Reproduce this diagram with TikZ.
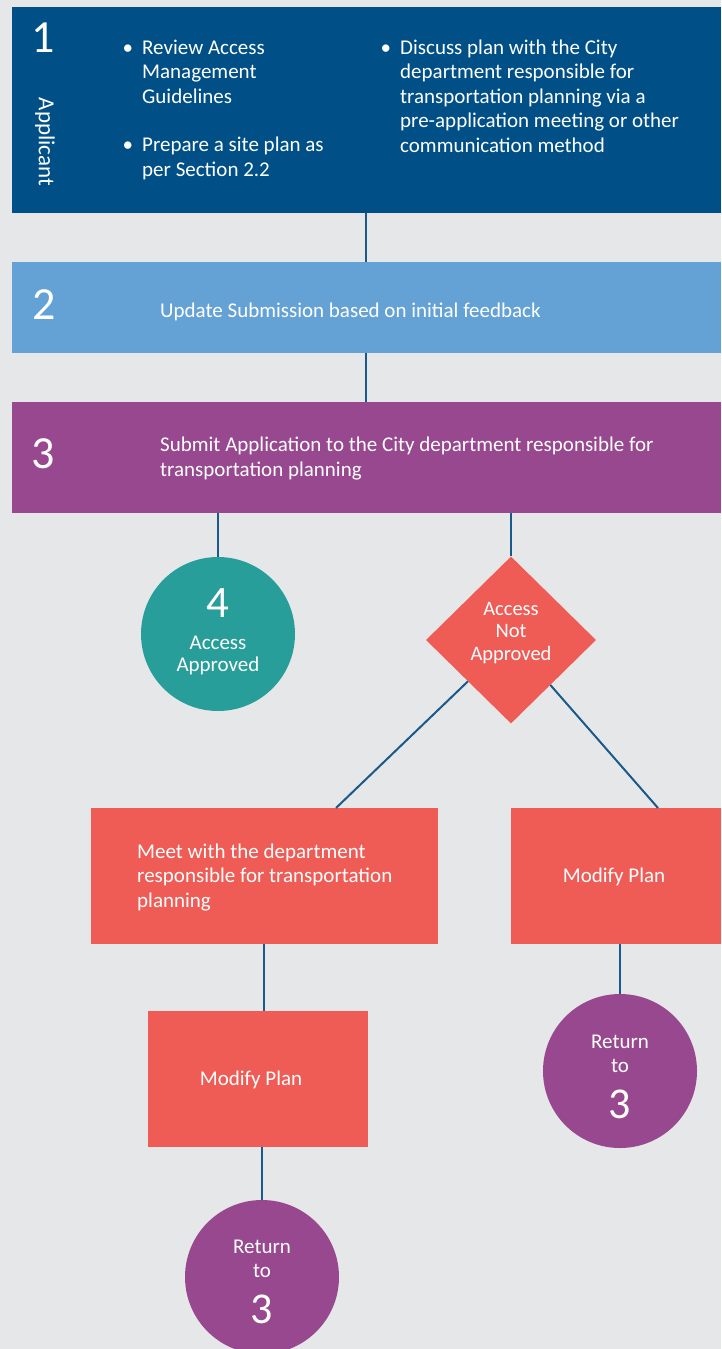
\documentclass[tikz,border=0pt]{standalone}
\usepackage{fontspec}
\setmainfont{Carlito}
\usetikzlibrary{shapes.geometric}
\definecolor{bg}{HTML}{E6E7E8}
\definecolor{dblue}{HTML}{005087}
\definecolor{lblue}{HTML}{64A2D6}
\definecolor{purp}{HTML}{98488F}
\definecolor{teal}{HTML}{279E9A}
\definecolor{coral}{HTML}{EF5B55}
\definecolor{conn}{HTML}{1A5A8A}
\begin{document}
\begin{tikzpicture}[x=1pt,y=-1pt,
  rbox/.style={rectangle, inner sep=0pt, outer sep=0pt, anchor=north west},
  ln/.style={draw=conn, line width=2pt},
  txt/.style={text=white, inner sep=0pt, align=left, font=\fontsize{21}{24.5}\selectfont},
  ctxt/.style={text=white, inner sep=0pt, align=center, font=\fontsize{21}{22}\selectfont},
  num/.style={text=white, inner sep=0pt, font=\fontsize{46}{46}\selectfont, anchor=base}
]
\fill[bg] (0,0) rectangle (721,1349);
\useasboundingbox (0,0) rectangle (721,1349);

% step boxes
\node[rbox, fill=dblue, minimum width=709pt, minimum height=206pt] (s1) at (12,7) {};
\node[rbox, fill=lblue, minimum width=709pt, minimum height=91pt] (s2) at (12,262) {};
\node[rbox, fill=purp, minimum width=709pt, minimum height=111pt] (s3) at (12,402) {};

% step numbers
\node[num] (n1) at (43,52) {1};
\node[num] (n2) at (44,319) {2};
\node[num] (n3) at (43,468) {3};
\node[text=white, inner sep=0pt, rotate=-90, font=\fontsize{23}{23}\selectfont] (app) at (45,142) {Applicant};

% step texts (anchor base = baseline of last line)
\node[txt, anchor=base west] (b1) at (142,103) {\llap{\textbullet\hspace{9pt}}Review Access\\Management\\Guidelines};
\node[txt, anchor=base west] (b2) at (142,176) {\llap{\textbullet\hspace{9pt}}Prepare a site plan as\\per Section 2.2};
\node[txt, anchor=base west] (b3) at (400,152) {\llap{\textbullet\hspace{9pt}}Discuss plan with the City\\department responsible for\\transportation planning via a\\pre-application meeting or other\\communication method};
\node[txt, anchor=base west] (t2) at (160,317) {Update Submission based on initial feedback};
\node[txt, anchor=base west] (t3) at (160,476) {Submit Application to the City department responsible for\\transportation planning};

% outcomes
\node[circle, fill=teal, minimum size=154pt, inner sep=0pt] (c4) at (218,634) {};
\node[ctxt, anchor=base] (t4) at ([yshift=-37pt]c4.center)
  {{\fontsize{45}{45}\selectfont 4}\\[10pt]Access\\Approved};
\node[diamond, fill=coral, minimum width=170pt, minimum height=167pt, inner sep=0pt] (dia) at (511,640) {};
\node[ctxt, anchor=base, font=\fontsize{20.5}{22.5}\selectfont] (tdia) at ([yshift=-20pt]dia.center)
  {Access\\Not\\Approved};

\node[rbox, fill=coral, minimum width=347pt, minimum height=136pt] (meet) at (91,808) {};
\node[txt, anchor=base west] (tmeet) at (137,907) {Meet with the department\\responsible for transportation\\planning};
\node[rbox, fill=coral, minimum width=210pt, minimum height=136pt] (mod1) at (511,808) {};
\node[ctxt, anchor=base] (tmod1) at ([xshift=-2pt,yshift=-6pt]mod1.center) {Modify Plan};
\node[rbox, fill=coral, minimum width=220pt, minimum height=136pt] (mod2) at (148,1011) {};
\node[ctxt, anchor=base] (tmod2) at ([xshift=-7pt,yshift=-6pt]mod2.center) {Modify Plan};

\node[circle, fill=purp, minimum size=154pt, inner sep=0pt] (r1) at (620,1071) {};
\node[ctxt, anchor=base, font=\fontsize{21}{23.5}\selectfont] (tr1) at ([yshift=-47pt]r1.center)
  {Return\\to\\[16pt]{\fontsize{44}{44}\selectfont 3}};
\node[circle, fill=purp, minimum size=154pt, inner sep=0pt] (r2) at (262,1277) {};
\node[ctxt, anchor=base, font=\fontsize{21}{23.5}\selectfont] (tr2) at ([yshift=-46pt]r2.center)
  {Return\\to\\[16pt]{\fontsize{44}{44}\selectfont 3}};

% connectors
\coordinate (x366) at (366,0);
\coordinate (xL) at (336,0);
\coordinate (xR) at (658,0);
\coordinate (x264) at (264,0);
\draw[ln] (s1.south -| x366) -- (s2.north -| x366);
\draw[ln] (s2.south -| x366) -- (s3.north -| x366);
\draw[ln] (s3.south -| c4) -- (c4.north);
\draw[ln] (s3.south -| dia) -- (dia.north);
\draw[ln] (dia) -- (meet.north -| xL);
\draw[ln] (dia) -- (mod1.north -| xR);
\draw[ln] (meet.south -| x264) -- (mod2.north -| x264);
\draw[ln] (mod2.south -| r2) -- (r2.north);
\draw[ln] (mod1.south -| r1) -- (r1.north);
\end{tikzpicture}
\end{document}
